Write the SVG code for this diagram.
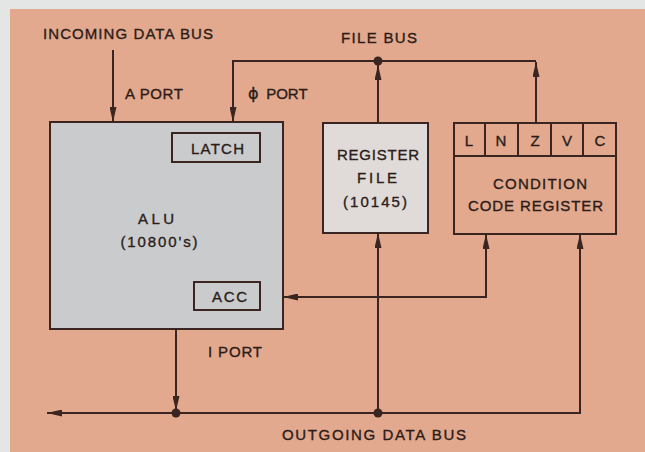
<svg xmlns="http://www.w3.org/2000/svg" width="645" height="452" viewBox="0 0 645 452">
  <defs>
    <style>
      .t { font-family: "Liberation Sans", Arial, sans-serif; font-size: 15px; fill: #2b1c18; stroke: #2b1c18; stroke-width: 0.35px; }
      .c { text-anchor: middle; }
      .phi { font-family: "DejaVu Sans", sans-serif; font-size: 16px; }
      .box { stroke: #3a2520; stroke-width: 2; }
      .ln { fill: none; stroke: #3a2520; stroke-width: 2; }
      .dot { fill: #3a2520; }
    </style>
    <marker id="ah" markerWidth="15" markerHeight="7" refX="15" refY="3.5" orient="auto-start-reverse" markerUnits="userSpaceOnUse">
      <path d="M0,0 L15,3.5 L0,7 z" fill="#3a2520"/>
    </marker>
  </defs>

  <rect x="0" y="0" width="645" height="452" fill="#e4e6e6"/>
  <rect x="10" y="9" width="635" height="443" fill="#e3a98e"/>

  <g id="alu">
    <rect class="box" x="50" y="122" width="233" height="207" fill="#c9cbcc"/>
    <text class="t c" x="156" y="224" textLength="36" lengthAdjust="spacing">ALU</text>
    <text class="t c" x="159" y="247" textLength="77" lengthAdjust="spacing">(10800's)</text>
  </g>
  <g id="latch">
    <rect class="box" x="172" y="133" width="88" height="29" fill="none"/>
    <text class="t" x="191" y="154" textLength="53" lengthAdjust="spacing">LATCH</text>
  </g>
  <g id="acc">
    <rect class="box" x="194" y="282" width="66" height="28" fill="none"/>
    <text class="t" x="212" y="302" textLength="35" lengthAdjust="spacing">ACC</text>
  </g>
  <g id="register-file">
    <rect class="box" x="323" y="123" width="105" height="110" fill="#e0dbd8"/>
    <text class="t" x="337" y="160" textLength="82" lengthAdjust="spacing">REGISTER</text>
    <text class="t" x="357" y="183" textLength="40" lengthAdjust="spacing">FILE</text>
    <text class="t" x="343" y="207" textLength="64" lengthAdjust="spacing">(10145)</text>
  </g>
  <g id="condition-code-register">
    <rect class="box" x="454" y="123" width="162" height="111" fill="none"/>
    <path class="ln" d="M454,156 H616 M485,123 V156 M518,123 V156 M551,123 V156 M583,123 V156"/>
    <text class="t c" x="469" y="146">L</text>
    <text class="t c" x="501" y="146">N</text>
    <text class="t c" x="535" y="146">Z</text>
    <text class="t c" x="567" y="146">V</text>
    <text class="t c" x="600" y="146">C</text>
    <text class="t" x="493" y="189" textLength="94" lengthAdjust="spacing">CONDITION</text>
    <text class="t" x="468" y="211" textLength="135" lengthAdjust="spacing">CODE REGISTER</text>
  </g>

  <g id="connectors">
    <path class="ln" d="M113,50 V122" marker-end="url(#ah)"/>
    <path class="ln" d="M536,61 H233 V122" marker-end="url(#ah)"/>
    <path class="ln" d="M378,123 V65" marker-end="url(#ah)"/>
    <path class="ln" d="M536,123 V62" marker-end="url(#ah)"/>
    <path class="ln" d="M283,297 H486 V234" marker-start="url(#ah)" marker-end="url(#ah)"/>
    <path class="ln" d="M176,329 V411" marker-end="url(#ah)"/>
    <path class="ln" d="M580,234 V413 H47" marker-start="url(#ah)" marker-end="url(#ah)"/>
    <path class="ln" d="M378,413 V233" marker-end="url(#ah)"/>
    <circle class="dot" cx="378" cy="61" r="4.5"/>
    <circle class="dot" cx="176" cy="413" r="4.5"/>
    <circle class="dot" cx="378" cy="413" r="4.5"/>
  </g>

  <g id="labels">
    <text class="t" x="43" y="39" textLength="170" lengthAdjust="spacing">INCOMING DATA BUS</text>
    <text class="t" x="125" y="99" textLength="58" lengthAdjust="spacing">A PORT</text>
    <text class="t" x="248" y="99"><tspan class="phi">ϕ</tspan><tspan x="262"> PORT</tspan></text>
    <text class="t" x="341" y="43" textLength="76" lengthAdjust="spacing">FILE BUS</text>
    <text class="t" x="208" y="357" textLength="54" lengthAdjust="spacing">I PORT</text>
    <text class="t" x="282" y="440" textLength="184" lengthAdjust="spacing">OUTGOING DATA BUS</text>
  </g>
</svg>
